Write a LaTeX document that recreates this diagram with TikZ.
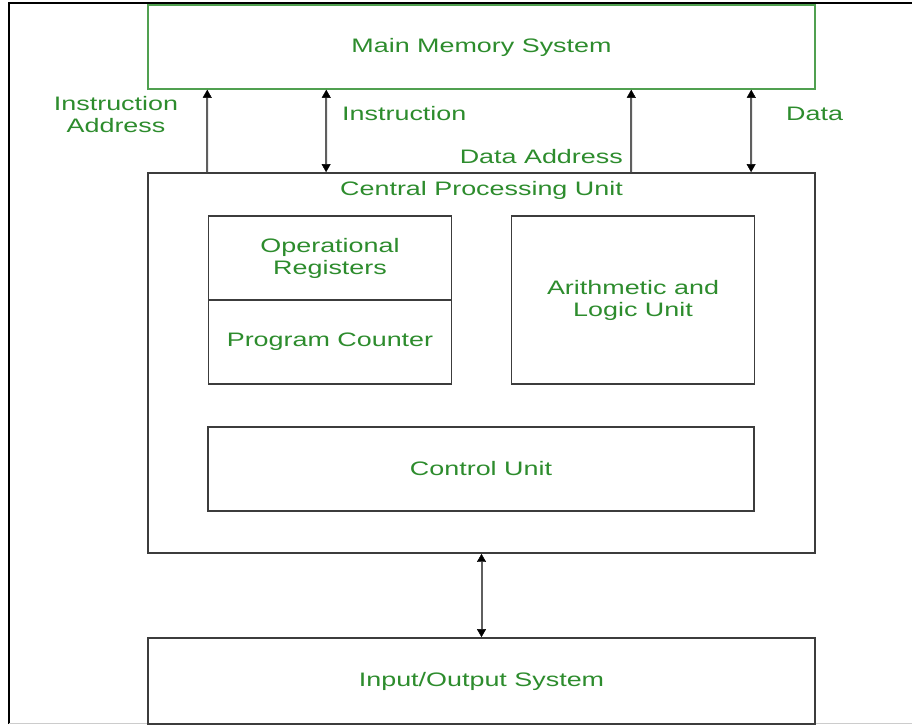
\documentclass[tikz,border=0pt]{standalone}
\usepackage{fontspec}
\setmainfont{Liberation Sans}[FakeStretch=1.38]
\usetikzlibrary{arrows.meta}
\definecolor{txtgreen}{RGB}{45,140,45}
\definecolor{memgreen}{RGB}{80,160,80}
\definecolor{boxline}{RGB}{60,60,60}
\definecolor{arrline}{RGB}{95,95,95}
\begin{document}
\begin{tikzpicture}[x=1pt,y=-1pt,
  every node/.style={font=\fontsize{19.5}{22}\selectfont, text=txtgreen, align=center, inner sep=0pt},
  unitbox/.style={draw=boxline, line width=1.8pt, fill=white},
  membox/.style={draw=memgreen, line width=1.5pt},
  link/.style={draw=arrline, line width=2pt},
  tipend/.style={-{Triangle[width=9pt,length=8pt,color=black,fill=black,line width=0.4pt]}},
  bothends/.style={{Triangle[width=9pt,length=8pt,color=black,fill=black,line width=0.4pt]}-{Triangle[width=9pt,length=8pt,color=black,fill=black,line width=0.4pt]}}
]
\useasboundingbox (0,0) rectangle (912,724);

% page frame
\draw[black, line width=2pt] (912,3) -- (9,3) -- (9,724);
\draw[black!20, line width=1pt] (9,723) -- (912,723);

% memory and processor blocks
\node[membox, minimum width=667pt, minimum height=84pt] (mem) at (481.5,47) {Main Memory System};
\node[unitbox, minimum width=667pt, minimum height=380pt] (cpu) at (481.5,363) {};
\node (cpulabel) at (481.5,190) {Central Processing Unit};

\node[unitbox, minimum width=243pt, minimum height=84pt] (opreg) at (330,258) {Operational\\Registers};
\node[unitbox, minimum width=243pt, minimum height=84pt] (pc) at (330,342) {Program Counter};
\node[unitbox, minimum width=243pt, minimum height=168pt] (alu) at (633,300) {Arithmetic and\\Logic Unit};
\node[unitbox, minimum width=546pt, minimum height=84pt] (cu) at (481,469) {Control Unit};

\node[unitbox, minimum width=667pt, minimum height=86pt] (io) at (481.5,681) {Input/Output System};

% buses between processor and memory
\draw[link, tipend] ([xshift=60pt]cpu.north west) -- ([xshift=60pt]mem.south west);
\draw[link, bothends] ([xshift=179pt]mem.south west) -- ([xshift=179pt]cpu.north west);
\draw[link, tipend] ([xshift=484pt]cpu.north west) -- ([xshift=484pt]mem.south west);
\draw[link, bothends] ([xshift=604pt]mem.south west) -- ([xshift=604pt]cpu.north west);

% processor to I/O
\draw[link, bothends] (cpu.south) -- (io.north);

% bus labels
\node (lblia) at (116,115) {Instruction\\Address};
\node[anchor=west] (lblins) at (342,114) {Instruction};
\node[anchor=east] (lblda) at (623,157) {Data Address};
\node[anchor=west] (lbldata) at (786,114) {Data};
\end{tikzpicture}
\end{document}
